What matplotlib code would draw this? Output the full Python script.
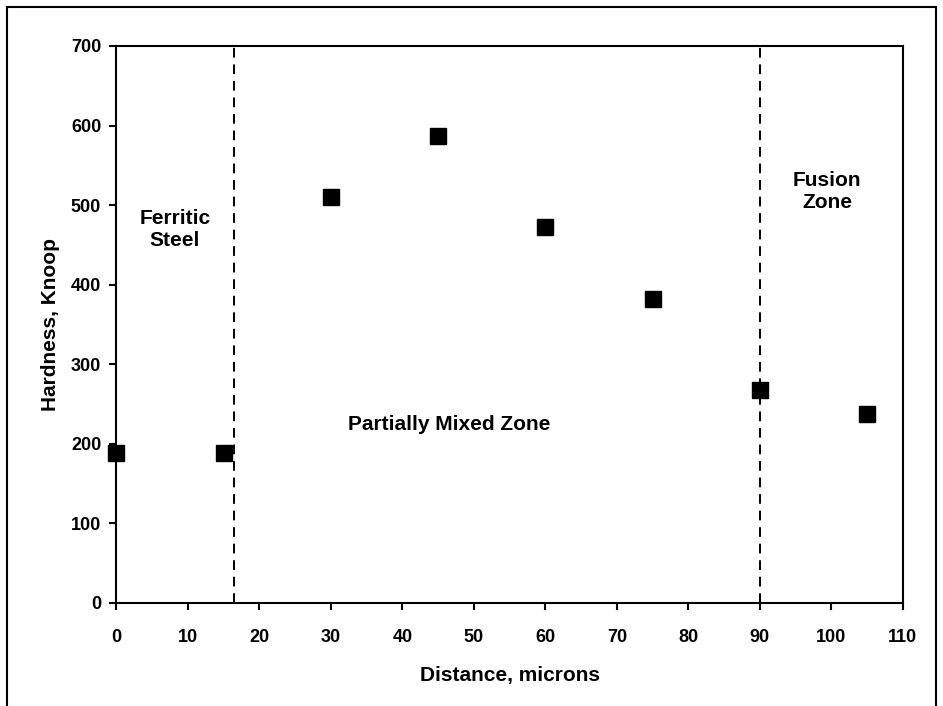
import matplotlib.pyplot as plt
from matplotlib.patches import Rectangle

plt.rcParams['font.family'] = ['Liberation Sans', 'DejaVu Sans']
plt.rcParams['font.weight'] = 'bold'

# measured hardness along the weld
distance = [0, 15, 30, 45, 60, 75, 90, 105]
hardness = [188, 188, 510, 587, 473, 382, 268, 238]

# zone boundaries
boundaries = [16.5, 90]

xticks = list(range(0, 111, 10))
yticks = list(range(0, 701, 100))

fig = plt.figure(figsize=(9.43, 7.06), dpi=100)
ax = fig.add_axes([0.1235, 0.1459, 0.834, 0.789])

# outer frame round the chart (bottom runs off the page)
fig.patches.append(Rectangle((7.5 / 943, -0.05), (936 - 7.5) / 943, 1.05 - 7.5 / 706,
                             transform=fig.transFigure, fill=False,
                             edgecolor='black', linewidth=1.5, clip_on=False))

for b in boundaries:
    ax.axvline(b, color='black', linestyle=(0, (5, 3.5)), linewidth=1.4, zorder=1)

ax.plot(distance, hardness, linestyle='none', marker='s', markersize=11.5,
        color='black', clip_on=False, zorder=3)

ax.text(8.2, 469, 'Ferritic\nSteel', ha='center', va='center', fontsize=15,
        fontweight='bold', linespacing=1.2)
ax.text(46.6, 224, 'Partially Mixed Zone', ha='center', va='center', fontsize=15,
        fontweight='bold')
ax.text(99.4, 517, 'Fusion\nZone', ha='center', va='center', fontsize=15,
        fontweight='bold', linespacing=1.2)

ax.set_xlim(0, 110)
ax.set_ylim(0, 700)
ax.set_xticks(xticks)
ax.set_yticks(yticks)
ax.tick_params(axis='both', direction='out', length=5, width=1.5, labelsize=13)
ax.tick_params(axis='x', pad=14)
ax.tick_params(axis='y', pad=6)
for lab in ax.get_xticklabels() + ax.get_yticklabels():
    lab.set_fontweight('bold')
for s in ax.spines.values():
    s.set_linewidth(1.5)

ax.set_xlabel('Distance, microns', fontsize=15, fontweight='bold', labelpad=14)
ax.set_ylabel('Hardness, Knoop', fontsize=15, fontweight='bold', labelpad=8)

fig.savefig('out.png', dpi=100)
